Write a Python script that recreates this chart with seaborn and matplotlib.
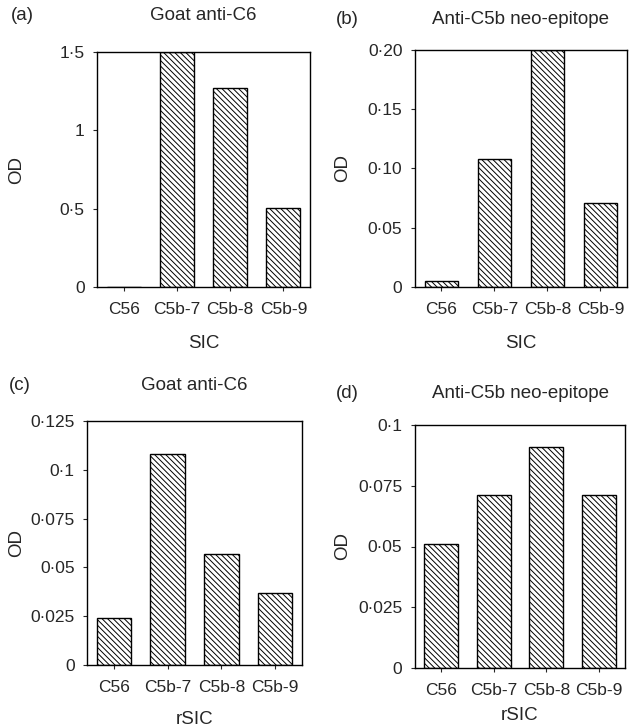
import matplotlib
matplotlib.use('Agg')
import matplotlib.pyplot as plt
import seaborn as sns

categories = ['C56', 'C5b-7', 'C5b-8', 'C5b-9']

sic_goat = [0.003, 1.5, 1.27, 0.505]
sic_neo = [0.005, 0.108, 0.20, 0.071]
rsic_goat = [0.024, 0.108, 0.057, 0.037]
rsic_neo = [0.051, 0.071, 0.091, 0.071]

titles = ['Goat anti-C6', 'Anti-C5b neo-epitope', 'Goat anti-C6', 'Anti-C5b neo-epitope']
panel_tags = ['(a)', '(b)', '(c)', '(d)']
xlabels = ['SIC', 'SIC', 'rSIC', 'rSIC']

yticks_a = [0, 0.5, 1, 1.5]
ylabels_a = ['0', '0·5', '1', '1·5']
yticks_b = [0, 0.05, 0.10, 0.15, 0.20]
ylabels_b = ['0', '0·05', '0·10', '0·15', '0·20']
yticks_c = [0, 0.025, 0.05, 0.075, 0.1, 0.125]
ylabels_c = ['0', '0·025', '0·05', '0·075', '0·1', '0·125']
yticks_d = [0, 0.025, 0.05, 0.075, 0.1]
ylabels_d = ['0', '0·025', '0·05', '0·075', '0·1']

sns.set_style('white')
plt.rcParams['font.family'] = ['Liberation Sans', 'DejaVu Sans']
plt.rcParams['hatch.linewidth'] = 0.7

W, H = 635, 728
fig = plt.figure(figsize=(W / 100, H / 100), dpi=100)

# axes boxes in pixels: left, top, right, bottom
boxes = [(97, 52, 310, 287), (415, 50, 627, 287),
         (87, 421, 302, 665), (415, 425, 625, 668)]
values = [sic_goat, sic_neo, rsic_goat, rsic_neo]
ticks = [(yticks_a, ylabels_a), (yticks_b, ylabels_b),
         (yticks_c, ylabels_c), (yticks_d, ylabels_d)]
title_y = [15, 20, 385, 393]
tag_x = [22, 347, 20, 347]
od_x = [17, 343, 17, 343]
xlabel_y = [343, 343, 719, 716]

for i in range(4):
    l, t, r, b = boxes[i]
    ax = fig.add_axes([l / W, 1 - b / H, (r - l) / W, (b - t) / H])
    sns.barplot(x=categories, y=values[i], ax=ax, color='white', saturation=1,
                edgecolor='black', linewidth=1.0, width=0.64)
    for p in ax.patches:
        p.set_hatch('\\\\\\\\\\\\')
    yt, yl = ticks[i]
    ax.set_ylim(0, yt[-1])
    ax.set_xlim(-0.5, 3.5)
    ax.set_yticks(yt)
    ax.set_yticklabels(yl, fontsize=12.5)
    ax.tick_params(axis='x', labelsize=12.5, length=3, width=0.8, direction='out', pad=8)
    ax.tick_params(axis='y', length=3, width=0.8, direction='out', pad=6)
    ax.tick_params(left=True, bottom=True)
    for s in ax.spines.values():
        s.set_visible(True)
        s.set_color('black')
        s.set_linewidth(1.0)
    ax.set_xlabel('')
    ax.set_ylabel('')
    cx = (l + r) / 2
    fig.text(cx / W, 1 - title_y[i] / H, titles[i], ha='center', va='center', fontsize=13.5)
    fig.text(tag_x[i] / W, 1 - title_y[i] / H, panel_tags[i], ha='center', va='center', fontsize=13.5)
    fig.text(od_x[i] / W, 1 - (t + b) / 2 / H, 'OD', ha='center', va='center', rotation=90, fontsize=13.5)
    fig.text(cx / W, 1 - xlabel_y[i] / H, xlabels[i], ha='center', va='center', fontsize=13.5)

fig.savefig('out.png', dpi=100)
